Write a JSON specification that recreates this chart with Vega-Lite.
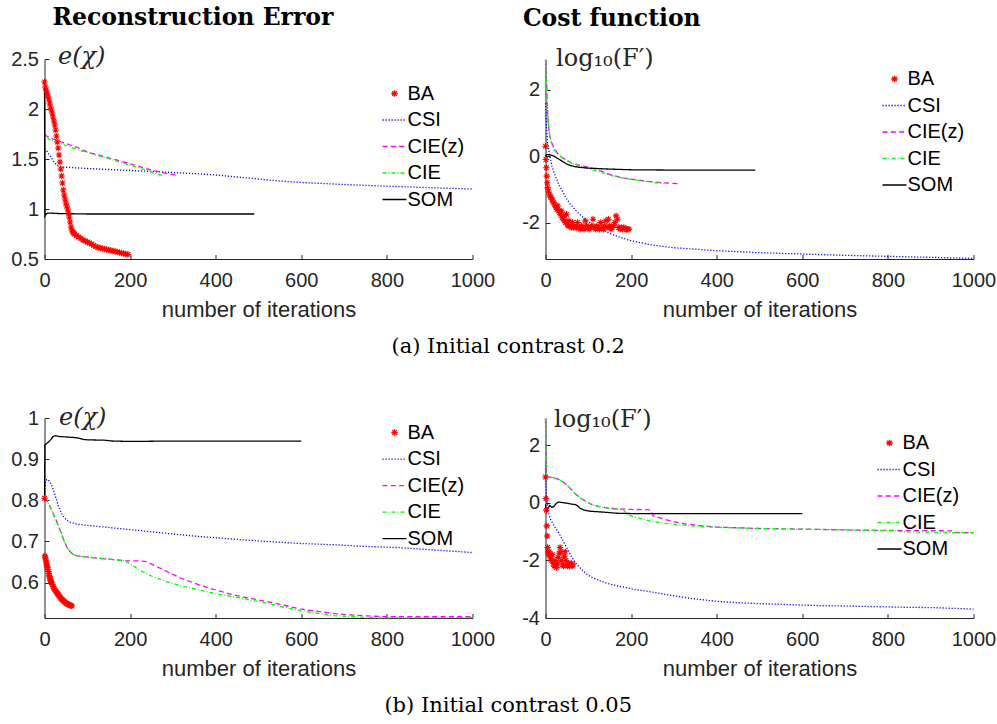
{
"$schema": "https://vega.github.io/schema/vega-lite/v6.json",
"background": "white",
"padding": {"left": 10.5, "top": 5, "right": 0, "bottom": 0},
"config": {
 "font": "Liberation Sans",
 "view": {"stroke": null},
 "axis": {"labelFont": "Liberation Sans", "labelFontSize": 20, "labelColor": "#262626", "titleFont": "Liberation Sans", "titleFontSize": 22, "titleFontWeight": "normal", "titleColor": "#262626", "domainColor": "#262626", "tickColor": "#262626", "grid": false, "tickSize": -4.5, "labelFlush": false, "labelOverlap": false},
 "axisX": {"labelPadding": 16, "titlePadding": 9},
 "axisY": {"labelPadding": 10.5},
 "locale": {"number": {"decimal": ".", "thousands": ",", "grouping": [3], "currency": ["$", ""], "minus": "-"}}
},
"datasets": {
 "a_err": [
  {"m":"BA","x":0,"y":2.27},{"m":"BA","x":2,"y":2.22},{"m":"BA","x":4,"y":2.19},{"m":"BA","x":6,"y":2.16},{"m":"BA","x":8,"y":2.13},{"m":"BA","x":10,"y":2.10},{"m":"BA","x":12,"y":2.06},{"m":"BA","x":14,"y":2.02},{"m":"BA","x":16,"y":1.99},{"m":"BA","x":18,"y":1.96},{"m":"BA","x":20,"y":1.92},{"m":"BA","x":22,"y":1.88},{"m":"BA","x":24,"y":1.84},{"m":"BA","x":26,"y":1.79},{"m":"BA","x":28,"y":1.73},{"m":"BA","x":30,"y":1.67},{"m":"BA","x":32,"y":1.61},{"m":"BA","x":34,"y":1.54},{"m":"BA","x":36,"y":1.47},{"m":"BA","x":38,"y":1.40},{"m":"BA","x":40,"y":1.33},{"m":"BA","x":42,"y":1.26},{"m":"BA","x":44,"y":1.19},{"m":"BA","x":46,"y":1.14},{"m":"BA","x":48,"y":1.10},{"m":"BA","x":50,"y":1.06},{"m":"BA","x":52,"y":1.03},{"m":"BA","x":54,"y":1.00},{"m":"BA","x":56,"y":0.96},{"m":"BA","x":58,"y":0.92},{"m":"BA","x":60,"y":0.87},{"m":"BA","x":62,"y":0.82},{"m":"BA","x":64,"y":0.79},{"m":"BA","x":66,"y":0.77},{"m":"BA","x":68,"y":0.76},{"m":"BA","x":70,"y":0.75},{"m":"BA","x":75,"y":0.735},{"m":"BA","x":80,"y":0.72},{"m":"BA","x":85,"y":0.705},{"m":"BA","x":90,"y":0.69},{"m":"BA","x":95,"y":0.68},{"m":"BA","x":100,"y":0.67},{"m":"BA","x":105,"y":0.66},{"m":"BA","x":110,"y":0.65},{"m":"BA","x":115,"y":0.635},{"m":"BA","x":120,"y":0.625},{"m":"BA","x":125,"y":0.615},{"m":"BA","x":130,"y":0.61},{"m":"BA","x":135,"y":0.605},{"m":"BA","x":140,"y":0.60},{"m":"BA","x":145,"y":0.595},{"m":"BA","x":150,"y":0.59},{"m":"BA","x":155,"y":0.585},{"m":"BA","x":160,"y":0.58},{"m":"BA","x":165,"y":0.575},{"m":"BA","x":170,"y":0.57},{"m":"BA","x":175,"y":0.565},{"m":"BA","x":180,"y":0.56},{"m":"BA","x":185,"y":0.555},{"m":"BA","x":190,"y":0.55},{"m":"BA","x":195,"y":0.545},
  {"m":"CSI","x":0,"y":1.60},{"m":"CSI","x":3,"y":1.59},{"m":"CSI","x":6,"y":1.575},{"m":"CSI","x":10,"y":1.55},{"m":"CSI","x":15,"y":1.52},{"m":"CSI","x":20,"y":1.485},{"m":"CSI","x":25,"y":1.455},{"m":"CSI","x":30,"y":1.435},{"m":"CSI","x":40,"y":1.42},{"m":"CSI","x":60,"y":1.415},{"m":"CSI","x":100,"y":1.405},{"m":"CSI","x":150,"y":1.395},{"m":"CSI","x":200,"y":1.385},{"m":"CSI","x":250,"y":1.375},{"m":"CSI","x":300,"y":1.365},{"m":"CSI","x":364,"y":1.35},{"m":"CSI","x":400,"y":1.34},{"m":"CSI","x":450,"y":1.32},{"m":"CSI","x":500,"y":1.30},{"m":"CSI","x":550,"y":1.28},{"m":"CSI","x":600,"y":1.265},{"m":"CSI","x":700,"y":1.245},{"m":"CSI","x":800,"y":1.228},{"m":"CSI","x":900,"y":1.213},{"m":"CSI","x":1000,"y":1.20},
  {"m":"CIE(z)","x":0,"y":1.75},{"m":"CIE(z)","x":5,"y":1.73},{"m":"CIE(z)","x":20,"y":1.70},{"m":"CIE(z)","x":40,"y":1.67},{"m":"CIE(z)","x":60,"y":1.64},{"m":"CIE(z)","x":80,"y":1.61},{"m":"CIE(z)","x":100,"y":1.57},{"m":"CIE(z)","x":130,"y":1.535},{"m":"CIE(z)","x":160,"y":1.50},{"m":"CIE(z)","x":190,"y":1.465},{"m":"CIE(z)","x":210,"y":1.44},{"m":"CIE(z)","x":240,"y":1.40},{"m":"CIE(z)","x":270,"y":1.37},{"m":"CIE(z)","x":290,"y":1.35},{"m":"CIE(z)","x":310,"y":1.34},
  {"m":"CIE","x":0,"y":1.80},{"m":"CIE","x":3,"y":1.74},{"m":"CIE","x":10,"y":1.70},{"m":"CIE","x":20,"y":1.68},{"m":"CIE","x":40,"y":1.65},{"m":"CIE","x":60,"y":1.62},{"m":"CIE","x":80,"y":1.59},{"m":"CIE","x":100,"y":1.565},{"m":"CIE","x":130,"y":1.53},{"m":"CIE","x":160,"y":1.49},{"m":"CIE","x":190,"y":1.45},{"m":"CIE","x":210,"y":1.425},{"m":"CIE","x":240,"y":1.385},{"m":"CIE","x":260,"y":1.355},{"m":"CIE","x":280,"y":1.33},
  {"m":"SOM","x":0,"y":2.27},{"m":"SOM","x":1,"y":0.93},{"m":"SOM","x":3,"y":0.945},{"m":"SOM","x":8,"y":0.96},{"m":"SOM","x":30,"y":0.955},{"m":"SOM","x":100,"y":0.95},{"m":"SOM","x":490,"y":0.95}
 ],
 "a_cost": [
  {"m":"BA","x":0,"y":0.3},{"m":"BA","x":1,"y":-0.1},{"m":"BA","x":2,"y":-0.35},{"m":"BA","x":3,"y":-0.6},{"m":"BA","x":4,"y":-0.8},{"m":"BA","x":5,"y":-0.95},{"m":"BA","x":7,"y":-1.05},{"m":"BA","x":9,"y":-1.15},{"m":"BA","x":11,"y":-1.2},{"m":"BA","x":13,"y":-1.25},{"m":"BA","x":15,"y":-1.3},{"m":"BA","x":17,"y":-1.35},{"m":"BA","x":19,"y":-1.4},{"m":"BA","x":21,"y":-1.45},{"m":"BA","x":23,"y":-1.5},{"m":"BA","x":25,"y":-1.55},{"m":"BA","x":27,"y":-1.6},{"m":"BA","x":29,"y":-1.5},{"m":"BA","x":31,"y":-1.65},{"m":"BA","x":33,"y":-1.7},{"m":"BA","x":35,"y":-1.75},{"m":"BA","x":37,"y":-1.65},{"m":"BA","x":39,"y":-1.85},{"m":"BA","x":41,"y":-1.9},{"m":"BA","x":43,"y":-1.8},{"m":"BA","x":45,"y":-1.95},{"m":"BA","x":47,"y":-2.0},{"m":"BA","x":49,"y":-1.75},{"m":"BA","x":51,"y":-2.05},{"m":"BA","x":53,"y":-2.1},{"m":"BA","x":55,"y":-1.95},{"m":"BA","x":57,"y":-2.1},{"m":"BA","x":60,"y":-2.15},{"m":"BA","x":63,"y":-2.0},{"m":"BA","x":66,"y":-2.15},{"m":"BA","x":69,"y":-2.1},{"m":"BA","x":72,"y":-2.15},{"m":"BA","x":75,"y":-2.0},{"m":"BA","x":78,"y":-2.15},{"m":"BA","x":81,"y":-2.2},{"m":"BA","x":84,"y":-2.1},{"m":"BA","x":87,"y":-2.15},{"m":"BA","x":90,"y":-2.2},{"m":"BA","x":93,"y":-1.95},{"m":"BA","x":96,"y":-2.1},{"m":"BA","x":99,"y":-2.15},{"m":"BA","x":102,"y":-2.2},{"m":"BA","x":105,"y":-2.15},{"m":"BA","x":108,"y":-2.1},{"m":"BA","x":111,"y":-1.9},{"m":"BA","x":114,"y":-2.15},{"m":"BA","x":117,"y":-2.2},{"m":"BA","x":120,"y":-2.1},{"m":"BA","x":123,"y":-2.15},{"m":"BA","x":126,"y":-2.2},{"m":"BA","x":129,"y":-2.0},{"m":"BA","x":132,"y":-2.15},{"m":"BA","x":135,"y":-2.2},{"m":"BA","x":138,"y":-2.1},{"m":"BA","x":141,"y":-1.95},{"m":"BA","x":144,"y":-2.15},{"m":"BA","x":147,"y":-1.9},{"m":"BA","x":150,"y":-2.1},{"m":"BA","x":153,"y":-2.2},{"m":"BA","x":156,"y":-2.15},{"m":"BA","x":159,"y":-2.1},{"m":"BA","x":162,"y":-2.0},{"m":"BA","x":165,"y":-1.8},{"m":"BA","x":168,"y":-1.9},{"m":"BA","x":171,"y":-2.15},{"m":"BA","x":174,"y":-2.2},{"m":"BA","x":177,"y":-2.15},{"m":"BA","x":180,"y":-2.2},{"m":"BA","x":183,"y":-2.15},{"m":"BA","x":186,"y":-2.2},{"m":"BA","x":189,"y":-2.2},{"m":"BA","x":192,"y":-2.2},{"m":"BA","x":195,"y":-2.2},
  {"m":"CSI","x":0,"y":1.6},{"m":"CSI","x":2,"y":0.9},{"m":"CSI","x":5,"y":0.4},{"m":"CSI","x":10,"y":0.0},{"m":"CSI","x":15,"y":-0.3},{"m":"CSI","x":20,"y":-0.5},{"m":"CSI","x":30,"y":-0.82},{"m":"CSI","x":40,"y":-1.07},{"m":"CSI","x":50,"y":-1.3},{"m":"CSI","x":60,"y":-1.48},{"m":"CSI","x":75,"y":-1.7},{"m":"CSI","x":100,"y":-1.97},{"m":"CSI","x":125,"y":-2.18},{"m":"CSI","x":150,"y":-2.33},{"m":"CSI","x":175,"y":-2.45},{"m":"CSI","x":200,"y":-2.55},{"m":"CSI","x":250,"y":-2.68},{"m":"CSI","x":300,"y":-2.76},{"m":"CSI","x":400,"y":-2.85},{"m":"CSI","x":500,"y":-2.91},{"m":"CSI","x":600,"y":-2.95},{"m":"CSI","x":700,"y":-2.99},{"m":"CSI","x":800,"y":-3.02},{"m":"CSI","x":900,"y":-3.05},{"m":"CSI","x":1000,"y":-3.08},
  {"m":"CIE(z)","x":0,"y":2.9},{"m":"CIE(z)","x":2,"y":2.3},{"m":"CIE(z)","x":4,"y":1.6},{"m":"CIE(z)","x":6,"y":1.1},{"m":"CIE(z)","x":8,"y":0.8},{"m":"CIE(z)","x":10,"y":0.6},{"m":"CIE(z)","x":15,"y":0.4},{"m":"CIE(z)","x":20,"y":0.25},{"m":"CIE(z)","x":30,"y":0.05},{"m":"CIE(z)","x":40,"y":-0.05},{"m":"CIE(z)","x":60,"y":-0.2},{"m":"CIE(z)","x":80,"y":-0.28},{"m":"CIE(z)","x":100,"y":-0.33},{"m":"CIE(z)","x":120,"y":-0.4},{"m":"CIE(z)","x":150,"y":-0.55},{"m":"CIE(z)","x":180,"y":-0.65},{"m":"CIE(z)","x":210,"y":-0.71},{"m":"CIE(z)","x":240,"y":-0.76},{"m":"CIE(z)","x":270,"y":-0.8},{"m":"CIE(z)","x":310,"y":-0.83},
  {"m":"CIE","x":0,"y":2.9},{"m":"CIE","x":2,"y":2.3},{"m":"CIE","x":4,"y":1.6},{"m":"CIE","x":6,"y":1.1},{"m":"CIE","x":8,"y":0.8},{"m":"CIE","x":10,"y":0.6},{"m":"CIE","x":15,"y":0.35},{"m":"CIE","x":20,"y":0.2},{"m":"CIE","x":30,"y":0.05},{"m":"CIE","x":40,"y":-0.05},{"m":"CIE","x":60,"y":-0.2},{"m":"CIE","x":80,"y":-0.3},{"m":"CIE","x":100,"y":-0.38},{"m":"CIE","x":120,"y":-0.45},{"m":"CIE","x":150,"y":-0.57},{"m":"CIE","x":180,"y":-0.66},{"m":"CIE","x":210,"y":-0.72},{"m":"CIE","x":240,"y":-0.77},{"m":"CIE","x":276,"y":-0.83},
  {"m":"SOM","x":0,"y":0.0},{"m":"SOM","x":3,"y":0.05},{"m":"SOM","x":10,"y":0.04},{"m":"SOM","x":20,"y":0.0},{"m":"SOM","x":30,"y":-0.08},{"m":"SOM","x":40,"y":-0.16},{"m":"SOM","x":50,"y":-0.24},{"m":"SOM","x":60,"y":-0.29},{"m":"SOM","x":75,"y":-0.33},{"m":"SOM","x":100,"y":-0.36},{"m":"SOM","x":150,"y":-0.39},{"m":"SOM","x":200,"y":-0.41},{"m":"SOM","x":300,"y":-0.42},{"m":"SOM","x":490,"y":-0.42}
 ],
 "b_err": [
  {"m":"BA","x":0,"y":0.805},{"m":"BA","x":1,"y":0.665},{"m":"BA","x":2,"y":0.66},{"m":"BA","x":3,"y":0.655},{"m":"BA","x":4,"y":0.65},{"m":"BA","x":5,"y":0.645},{"m":"BA","x":6,"y":0.64},{"m":"BA","x":7,"y":0.636},{"m":"BA","x":8,"y":0.632},{"m":"BA","x":9,"y":0.627},{"m":"BA","x":10,"y":0.622},{"m":"BA","x":11,"y":0.618},{"m":"BA","x":12,"y":0.614},{"m":"BA","x":13,"y":0.61},{"m":"BA","x":14,"y":0.606},{"m":"BA","x":15,"y":0.603},{"m":"BA","x":16,"y":0.6},{"m":"BA","x":18,"y":0.595},{"m":"BA","x":20,"y":0.591},{"m":"BA","x":22,"y":0.587},{"m":"BA","x":24,"y":0.583},{"m":"BA","x":26,"y":0.58},{"m":"BA","x":28,"y":0.577},{"m":"BA","x":30,"y":0.574},{"m":"BA","x":32,"y":0.571},{"m":"BA","x":34,"y":0.568},{"m":"BA","x":36,"y":0.565},{"m":"BA","x":38,"y":0.562},{"m":"BA","x":40,"y":0.56},{"m":"BA","x":42,"y":0.558},{"m":"BA","x":44,"y":0.556},{"m":"BA","x":46,"y":0.554},{"m":"BA","x":48,"y":0.552},{"m":"BA","x":50,"y":0.55},{"m":"BA","x":52,"y":0.549},{"m":"BA","x":54,"y":0.548},{"m":"BA","x":56,"y":0.547},{"m":"BA","x":58,"y":0.546},{"m":"BA","x":60,"y":0.545},{"m":"BA","x":62,"y":0.544},{"m":"BA","x":64,"y":0.543},
  {"m":"CSI","x":0,"y":0.805},{"m":"CSI","x":2,"y":0.845},{"m":"CSI","x":5,"y":0.85},{"m":"CSI","x":9,"y":0.85},{"m":"CSI","x":15,"y":0.84},{"m":"CSI","x":21,"y":0.825},{"m":"CSI","x":27,"y":0.805},{"m":"CSI","x":33,"y":0.784},{"m":"CSI","x":40,"y":0.768},{"m":"CSI","x":46,"y":0.758},{"m":"CSI","x":52,"y":0.752},{"m":"CSI","x":60,"y":0.747},{"m":"CSI","x":76,"y":0.742},{"m":"CSI","x":100,"y":0.739},{"m":"CSI","x":130,"y":0.736},{"m":"CSI","x":208,"y":0.728},{"m":"CSI","x":300,"y":0.718},{"m":"CSI","x":363,"y":0.712},{"m":"CSI","x":450,"y":0.705},{"m":"CSI","x":519,"y":0.70},{"m":"CSI","x":600,"y":0.695},{"m":"CSI","x":675,"y":0.692},{"m":"CSI","x":750,"y":0.688},{"m":"CSI","x":830,"y":0.685},{"m":"CSI","x":900,"y":0.68},{"m":"CSI","x":1000,"y":0.673},
  {"m":"CIE(z)","x":0,"y":0.805},{"m":"CIE(z)","x":5,"y":0.80},{"m":"CIE(z)","x":13,"y":0.784},{"m":"CIE(z)","x":20,"y":0.768},{"m":"CIE(z)","x":27,"y":0.752},{"m":"CIE(z)","x":33,"y":0.736},{"m":"CIE(z)","x":40,"y":0.718},{"m":"CIE(z)","x":46,"y":0.70},{"m":"CIE(z)","x":52,"y":0.687},{"m":"CIE(z)","x":60,"y":0.675},{"m":"CIE(z)","x":68,"y":0.668},{"m":"CIE(z)","x":76,"y":0.665},{"m":"CIE(z)","x":100,"y":0.662},{"m":"CIE(z)","x":130,"y":0.659},{"m":"CIE(z)","x":160,"y":0.656},{"m":"CIE(z)","x":188,"y":0.653},{"m":"CIE(z)","x":215,"y":0.653},{"m":"CIE(z)","x":239,"y":0.651},{"m":"CIE(z)","x":260,"y":0.64},{"m":"CIE(z)","x":286,"y":0.627},{"m":"CIE(z)","x":320,"y":0.61},{"m":"CIE(z)","x":363,"y":0.594},{"m":"CIE(z)","x":400,"y":0.582},{"m":"CIE(z)","x":441,"y":0.57},{"m":"CIE(z)","x":480,"y":0.562},{"m":"CIE(z)","x":519,"y":0.554},{"m":"CIE(z)","x":560,"y":0.545},{"m":"CIE(z)","x":597,"y":0.536},{"m":"CIE(z)","x":640,"y":0.53},{"m":"CIE(z)","x":675,"y":0.525},{"m":"CIE(z)","x":720,"y":0.521},{"m":"CIE(z)","x":753,"y":0.519},{"m":"CIE(z)","x":800,"y":0.517},{"m":"CIE(z)","x":900,"y":0.517},{"m":"CIE(z)","x":1000,"y":0.517},
  {"m":"CIE","x":0,"y":0.805},{"m":"CIE","x":5,"y":0.80},{"m":"CIE","x":13,"y":0.784},{"m":"CIE","x":20,"y":0.768},{"m":"CIE","x":27,"y":0.752},{"m":"CIE","x":33,"y":0.736},{"m":"CIE","x":40,"y":0.718},{"m":"CIE","x":46,"y":0.70},{"m":"CIE","x":52,"y":0.687},{"m":"CIE","x":60,"y":0.675},{"m":"CIE","x":68,"y":0.668},{"m":"CIE","x":76,"y":0.665},{"m":"CIE","x":100,"y":0.662},{"m":"CIE","x":130,"y":0.659},{"m":"CIE","x":160,"y":0.656},{"m":"CIE","x":188,"y":0.653},{"m":"CIE","x":200,"y":0.645},{"m":"CIE","x":223,"y":0.63},{"m":"CIE","x":250,"y":0.616},{"m":"CIE","x":286,"y":0.602},{"m":"CIE","x":320,"y":0.592},{"m":"CIE","x":363,"y":0.582},{"m":"CIE","x":400,"y":0.573},{"m":"CIE","x":441,"y":0.566},{"m":"CIE","x":480,"y":0.558},{"m":"CIE","x":519,"y":0.55},{"m":"CIE","x":560,"y":0.54},{"m":"CIE","x":597,"y":0.532},{"m":"CIE","x":640,"y":0.525},{"m":"CIE","x":675,"y":0.52},{"m":"CIE","x":720,"y":0.517},{"m":"CIE","x":753,"y":0.515},{"m":"CIE","x":800,"y":0.514},{"m":"CIE","x":900,"y":0.515},{"m":"CIE","x":1000,"y":0.515},
  {"m":"SOM","x":0,"y":0.80},{"m":"SOM","x":1,"y":0.935},{"m":"SOM","x":5,"y":0.938},{"m":"SOM","x":10,"y":0.942},{"m":"SOM","x":15,"y":0.948},{"m":"SOM","x":20,"y":0.955},{"m":"SOM","x":25,"y":0.957},{"m":"SOM","x":35,"y":0.955},{"m":"SOM","x":50,"y":0.954},{"m":"SOM","x":75,"y":0.952},{"m":"SOM","x":90,"y":0.948},{"m":"SOM","x":100,"y":0.947},{"m":"SOM","x":140,"y":0.946},{"m":"SOM","x":160,"y":0.944},{"m":"SOM","x":200,"y":0.943},{"m":"SOM","x":300,"y":0.944},{"m":"SOM","x":400,"y":0.944},{"m":"SOM","x":600,"y":0.944}
 ],
 "b_cost": [
  {"m":"BA","x":0,"y":0.9},{"m":"BA","x":1,"y":0.15},{"m":"BA","x":2,"y":-0.25},{"m":"BA","x":3,"y":-0.8},{"m":"BA","x":4,"y":-1.15},{"m":"BA","x":5,"y":-1.55},{"m":"BA","x":6,"y":-1.7},{"m":"BA","x":7,"y":-1.75},{"m":"BA","x":8,"y":-1.8},{"m":"BA","x":9,"y":-1.7},{"m":"BA","x":10,"y":-1.85},{"m":"BA","x":12,"y":-1.95},{"m":"BA","x":14,"y":-2.0},{"m":"BA","x":16,"y":-1.8},{"m":"BA","x":18,"y":-2.1},{"m":"BA","x":20,"y":-2.2},{"m":"BA","x":22,"y":-2.0},{"m":"BA","x":24,"y":-2.15},{"m":"BA","x":26,"y":-2.25},{"m":"BA","x":28,"y":-2.1},{"m":"BA","x":30,"y":-1.9},{"m":"BA","x":32,"y":-1.75},{"m":"BA","x":34,"y":-1.55},{"m":"BA","x":36,"y":-1.7},{"m":"BA","x":38,"y":-2.0},{"m":"BA","x":40,"y":-2.15},{"m":"BA","x":42,"y":-2.2},{"m":"BA","x":44,"y":-1.85},{"m":"BA","x":46,"y":-1.7},{"m":"BA","x":48,"y":-2.0},{"m":"BA","x":50,"y":-2.15},{"m":"BA","x":52,"y":-2.2},{"m":"BA","x":54,"y":-2.1},{"m":"BA","x":56,"y":-2.2},{"m":"BA","x":58,"y":-2.15},{"m":"BA","x":60,"y":-2.1},{"m":"BA","x":62,"y":-2.2},{"m":"BA","x":64,"y":-2.15},
  {"m":"CSI","x":0,"y":1.3},{"m":"CSI","x":2,"y":0.25},{"m":"CSI","x":7,"y":-0.32},{"m":"CSI","x":11,"y":-0.55},{"m":"CSI","x":20,"y":-0.8},{"m":"CSI","x":34,"y":-1.12},{"m":"CSI","x":50,"y":-1.57},{"m":"CSI","x":60,"y":-1.85},{"m":"CSI","x":73,"y":-2.14},{"m":"CSI","x":85,"y":-2.32},{"m":"CSI","x":97,"y":-2.48},{"m":"CSI","x":110,"y":-2.6},{"m":"CSI","x":128,"y":-2.71},{"m":"CSI","x":145,"y":-2.8},{"m":"CSI","x":167,"y":-2.88},{"m":"CSI","x":206,"y":-3.0},{"m":"CSI","x":250,"y":-3.1},{"m":"CSI","x":284,"y":-3.19},{"m":"CSI","x":340,"y":-3.32},{"m":"CSI","x":400,"y":-3.42},{"m":"CSI","x":450,"y":-3.47},{"m":"CSI","x":517,"y":-3.51},{"m":"CSI","x":595,"y":-3.55},{"m":"CSI","x":650,"y":-3.57},{"m":"CSI","x":751,"y":-3.6},{"m":"CSI","x":850,"y":-3.63},{"m":"CSI","x":906,"y":-3.64},{"m":"CSI","x":1000,"y":-3.69},
  {"m":"CIE(z)","x":0,"y":2.93},{"m":"CIE(z)","x":1,"y":2.0},{"m":"CIE(z)","x":2,"y":0.95},{"m":"CIE(z)","x":5,"y":0.9},{"m":"CIE(z)","x":19,"y":0.88},{"m":"CIE(z)","x":30,"y":0.82},{"m":"CIE(z)","x":42,"y":0.72},{"m":"CIE(z)","x":55,"y":0.55},{"m":"CIE(z)","x":65,"y":0.38},{"m":"CIE(z)","x":80,"y":0.18},{"m":"CIE(z)","x":97,"y":0.03},{"m":"CIE(z)","x":110,"y":-0.07},{"m":"CIE(z)","x":128,"y":-0.14},{"m":"CIE(z)","x":150,"y":-0.19},{"m":"CIE(z)","x":186,"y":-0.22},{"m":"CIE(z)","x":245,"y":-0.24},{"m":"CIE(z)","x":252,"y":-0.45},{"m":"CIE(z)","x":280,"y":-0.58},{"m":"CIE(z)","x":300,"y":-0.65},{"m":"CIE(z)","x":322,"y":-0.72},{"m":"CIE(z)","x":360,"y":-0.79},{"m":"CIE(z)","x":400,"y":-0.84},{"m":"CIE(z)","x":500,"y":-0.89},{"m":"CIE(z)","x":595,"y":-0.91},{"m":"CIE(z)","x":700,"y":-0.94},{"m":"CIE(z)","x":821,"y":-0.96},{"m":"CIE(z)","x":950,"y":-0.97},{"m":"CIE(z)","x":960,"y":-1.03},{"m":"CIE(z)","x":1000,"y":-1.04},
  {"m":"CIE","x":0,"y":2.93},{"m":"CIE","x":1,"y":2.0},{"m":"CIE","x":2,"y":0.95},{"m":"CIE","x":5,"y":0.9},{"m":"CIE","x":19,"y":0.88},{"m":"CIE","x":30,"y":0.82},{"m":"CIE","x":42,"y":0.72},{"m":"CIE","x":55,"y":0.55},{"m":"CIE","x":65,"y":0.38},{"m":"CIE","x":80,"y":0.18},{"m":"CIE","x":97,"y":0.03},{"m":"CIE","x":110,"y":-0.07},{"m":"CIE","x":128,"y":-0.14},{"m":"CIE","x":150,"y":-0.19},{"m":"CIE","x":182,"y":-0.24},{"m":"CIE","x":186,"y":-0.3},{"m":"CIE","x":190,"y":-0.41},{"m":"CIE","x":210,"y":-0.5},{"m":"CIE","x":245,"y":-0.63},{"m":"CIE","x":280,"y":-0.71},{"m":"CIE","x":322,"y":-0.77},{"m":"CIE","x":360,"y":-0.82},{"m":"CIE","x":400,"y":-0.85},{"m":"CIE","x":500,"y":-0.89},{"m":"CIE","x":595,"y":-0.91},{"m":"CIE","x":700,"y":-0.94},{"m":"CIE","x":821,"y":-0.97},{"m":"CIE","x":829,"y":-1.0},{"m":"CIE","x":900,"y":-1.02},{"m":"CIE","x":1000,"y":-1.04},
  {"m":"SOM","x":0,"y":-0.05},{"m":"SOM","x":2,"y":-0.3},{"m":"SOM","x":5,"y":-0.2},{"m":"SOM","x":10,"y":-0.09},{"m":"SOM","x":15,"y":-0.16},{"m":"SOM","x":20,"y":-0.12},{"m":"SOM","x":25,"y":-0.02},{"m":"SOM","x":30,"y":0.03},{"m":"SOM","x":40,"y":0.01},{"m":"SOM","x":50,"y":-0.01},{"m":"SOM","x":60,"y":-0.04},{"m":"SOM","x":70,"y":-0.06},{"m":"SOM","x":75,"y":-0.1},{"m":"SOM","x":80,"y":-0.18},{"m":"SOM","x":90,"y":-0.25},{"m":"SOM","x":104,"y":-0.29},{"m":"SOM","x":125,"y":-0.31},{"m":"SOM","x":143,"y":-0.33},{"m":"SOM","x":167,"y":-0.36},{"m":"SOM","x":200,"y":-0.37},{"m":"SOM","x":600,"y":-0.37}
 ]
},
"spacing": 48,
"resolve": {"scale": {"color": "independent", "shape": "independent", "strokeDash": "independent"}},
"vconcat": [
 {
  "title": {"text": "(a) Initial contrast 0.2", "orient": "bottom", "anchor": "middle", "dx": 5, "font": "DejaVu Serif", "fontSize": 21, "fontWeight": "normal", "color": "black", "offset": 15},
  "bounds": "flush",
  "spacing": 73,
  "resolve": {"scale": {"color": "independent", "shape": "independent", "strokeDash": "independent"}},
  "hconcat": [
   {
    "width": 428, "height": 200,
    "data": {"name": "a_err"},
    "title": {"text": "Reconstruction Error", "anchor": "start", "frame": "group", "dx": 8, "baseline": "alphabetic", "offset": -4, "font": "DejaVu Serif", "fontWeight": "bold", "fontSize": 23.5, "color": "black"},
    "encoding": {
     "x": {"field": "x", "type": "quantitative", "scale": {"domain": [0, 1000], "nice": false}, "axis": {"values": [0, 200, 400, 600, 800, 1000], "format": "d", "title": "number of iterations"}},
     "y": {"field": "y", "type": "quantitative", "scale": {"domain": [0.5, 2.5], "nice": false, "zero": false}, "axis": {"values": [0.5, 1, 1.5, 2, 2.5], "format": "~g", "title": "e(χ)", "titleAngle": 0, "titleAlign": "left", "titleBaseline": "middle", "titleX": 13, "titleY": -3, "titleFont": "DejaVu Serif", "titleFontStyle": "italic", "titleFontSize": 24}},
     "color": {"field": "m", "type": "nominal", "scale": {"domain": ["BA", "CSI", "CIE(z)", "CIE", "SOM"], "range": ["#ff0000", "#0000ff", "#ff00ff", "#00ff00", "#000000"]}, "legend": {"title": null, "orient": "none", "legendX": 337, "legendY": 21.5, "labelFont": "Liberation Sans", "labelFontSize": 20, "labelColor": "black", "symbolSize": 576, "labelOffset": 0, "padding": 0, "rowPadding": 3.5, "symbolStrokeWidth": 1.3}}
    },
    "layer": [
     {"transform": [{"filter": "datum.m != 'BA'"}], "mark": {"type": "line", "strokeWidth": 1.3},
      "encoding": {"strokeDash": {"field": "m", "type": "nominal", "scale": {"domain": ["BA", "CSI", "CIE(z)", "CIE", "SOM"], "range": [[1, 0], [1.2, 1.8], [5, 3.3], [4, 2, 1, 2], [1, 0]]}, "legend": {"title": null, "orient": "none", "legendX": 337, "legendY": 21.5, "labelFont": "Liberation Sans", "labelFontSize": 20, "labelColor": "black", "symbolSize": 576, "labelOffset": 0, "padding": 0, "rowPadding": 3.5, "symbolStrokeWidth": 1.3}}}},
     {"transform": [{"filter": "datum.m == 'BA'"}], "mark": {"type": "point", "filled": false, "size": 576, "strokeWidth": 1.1, "opacity": 1},
      "encoding": {"shape": {"field": "m", "type": "nominal", "scale": {"domain": ["BA", "CSI", "CIE(z)", "CIE", "SOM"], "range": ["M-0.27,0L0.27,0M0,-0.27L0,0.27M-0.19,-0.19L0.19,0.19M-0.19,0.19L0.19,-0.19", "stroke", "stroke", "stroke", "stroke"]}, "legend": {"title": null, "orient": "none", "legendX": 337, "legendY": 21.5, "labelFont": "Liberation Sans", "labelFontSize": 20, "labelColor": "black", "symbolSize": 576, "labelOffset": 0, "padding": 0, "rowPadding": 3.5, "symbolStrokeWidth": 1.3}}}}
    ]
   },
   {
    "width": 428, "height": 200,
    "data": {"name": "a_cost"},
    "title": {"text": "Cost function", "anchor": "start", "frame": "group", "dx": -22.6, "baseline": "alphabetic", "offset": -3.5, "font": "DejaVu Serif", "fontWeight": "bold", "fontSize": 23.5, "color": "black"},
    "encoding": {
     "x": {"field": "x", "type": "quantitative", "scale": {"domain": [0, 1000], "nice": false}, "axis": {"values": [0, 200, 400, 600, 800, 1000], "format": "d", "title": "number of iterations"}},
     "y": {"field": "y", "type": "quantitative", "scale": {"domain": [-3.1, 2.93], "nice": false, "zero": false}, "axis": {"values": [-2, 0, 2], "format": "~g", "title": "log₁₀(F′)", "titleAngle": 0, "titleAlign": "left", "titleBaseline": "middle", "titleX": 10, "titleY": -1, "titleFont": "DejaVu Serif", "titleFontSize": 24}},
     "color": {"field": "m", "type": "nominal", "scale": {"domain": ["BA", "CSI", "CIE(z)", "CIE", "SOM"], "range": ["#ff0000", "#0000ff", "#ff00ff", "#00ff00", "#000000"]}, "legend": {"title": null, "orient": "none", "legendX": 336, "legendY": 7, "labelFont": "Liberation Sans", "labelFontSize": 20, "labelColor": "black", "symbolSize": 576, "labelOffset": 0, "padding": 0, "rowPadding": 3.5, "symbolStrokeWidth": 1.3}}
    },
    "layer": [
     {"transform": [{"filter": "datum.m != 'BA'"}], "mark": {"type": "line", "strokeWidth": 1.3},
      "encoding": {"strokeDash": {"field": "m", "type": "nominal", "scale": {"domain": ["BA", "CSI", "CIE(z)", "CIE", "SOM"], "range": [[1, 0], [1.2, 1.8], [5, 3.3], [4, 2, 1, 2], [1, 0]]}, "legend": {"title": null, "orient": "none", "legendX": 336, "legendY": 7, "labelFont": "Liberation Sans", "labelFontSize": 20, "labelColor": "black", "symbolSize": 576, "labelOffset": 0, "padding": 0, "rowPadding": 3.5, "symbolStrokeWidth": 1.3}}}},
     {"transform": [{"filter": "datum.m == 'BA'"}], "mark": {"type": "point", "filled": false, "size": 576, "strokeWidth": 1.1, "opacity": 1},
      "encoding": {"shape": {"field": "m", "type": "nominal", "scale": {"domain": ["BA", "CSI", "CIE(z)", "CIE", "SOM"], "range": ["M-0.27,0L0.27,0M0,-0.27L0,0.27M-0.19,-0.19L0.19,0.19M-0.19,0.19L0.19,-0.19", "stroke", "stroke", "stroke", "stroke"]}, "legend": {"title": null, "orient": "none", "legendX": 336, "legendY": 7, "labelFont": "Liberation Sans", "labelFontSize": 20, "labelColor": "black", "symbolSize": 576, "labelOffset": 0, "padding": 0, "rowPadding": 3.5, "symbolStrokeWidth": 1.3}}}}
    ]
   }
  ]
 },
 {
  "title": {"text": "(b) Initial contrast 0.05", "orient": "bottom", "anchor": "middle", "dx": 5, "font": "DejaVu Serif", "fontSize": 21, "fontWeight": "normal", "color": "black", "offset": 15},
  "bounds": "flush",
  "spacing": 73,
  "resolve": {"scale": {"color": "independent", "shape": "independent", "strokeDash": "independent"}},
  "hconcat": [
   {
    "width": 428, "height": 200,
    "data": {"name": "b_err"},
    "encoding": {
     "x": {"field": "x", "type": "quantitative", "scale": {"domain": [0, 1000], "nice": false}, "axis": {"values": [0, 200, 400, 600, 800, 1000], "format": "d", "title": "number of iterations"}},
     "y": {"field": "y", "type": "quantitative", "scale": {"domain": [0.514, 1], "nice": false, "zero": false}, "axis": {"values": [0.6, 0.7, 0.8, 0.9, 1], "format": "~g", "title": "e(χ)", "titleAngle": 0, "titleAlign": "left", "titleBaseline": "middle", "titleX": 14, "titleY": -1, "titleFont": "DejaVu Serif", "titleFontStyle": "italic", "titleFontSize": 24}},
     "color": {"field": "m", "type": "nominal", "scale": {"domain": ["BA", "CSI", "CIE(z)", "CIE", "SOM"], "range": ["#ff0000", "#0000ff", "#ff00ff", "#00ff00", "#000000"]}, "legend": {"title": null, "orient": "none", "legendX": 337, "legendY": 1.6, "labelFont": "Liberation Sans", "labelFontSize": 20, "labelColor": "black", "symbolSize": 576, "labelOffset": 0, "padding": 0, "rowPadding": 3.5, "symbolStrokeWidth": 1.3}}
    },
    "layer": [
     {"transform": [{"filter": "datum.m != 'BA'"}], "mark": {"type": "line", "strokeWidth": 1.3},
      "encoding": {"strokeDash": {"field": "m", "type": "nominal", "scale": {"domain": ["BA", "CSI", "CIE(z)", "CIE", "SOM"], "range": [[1, 0], [1.2, 1.8], [5, 3.3], [4, 2, 1, 2], [1, 0]]}, "legend": {"title": null, "orient": "none", "legendX": 337, "legendY": 1.6, "labelFont": "Liberation Sans", "labelFontSize": 20, "labelColor": "black", "symbolSize": 576, "labelOffset": 0, "padding": 0, "rowPadding": 3.5, "symbolStrokeWidth": 1.3}}}},
     {"transform": [{"filter": "datum.m == 'BA'"}], "mark": {"type": "point", "filled": false, "size": 576, "strokeWidth": 1.1, "opacity": 1},
      "encoding": {"shape": {"field": "m", "type": "nominal", "scale": {"domain": ["BA", "CSI", "CIE(z)", "CIE", "SOM"], "range": ["M-0.27,0L0.27,0M0,-0.27L0,0.27M-0.19,-0.19L0.19,0.19M-0.19,0.19L0.19,-0.19", "stroke", "stroke", "stroke", "stroke"]}, "legend": {"title": null, "orient": "none", "legendX": 337, "legendY": 1.6, "labelFont": "Liberation Sans", "labelFontSize": 20, "labelColor": "black", "symbolSize": 576, "labelOffset": 0, "padding": 0, "rowPadding": 3.5, "symbolStrokeWidth": 1.3}}}}
    ]
   },
   {
    "width": 428, "height": 200,
    "data": {"name": "b_cost"},
    "encoding": {
     "x": {"field": "x", "type": "quantitative", "scale": {"domain": [0, 1000], "nice": false}, "axis": {"values": [0, 200, 400, 600, 800, 1000], "format": "d", "title": "number of iterations"}},
     "y": {"field": "y", "type": "quantitative", "scale": {"domain": [-4, 2.95], "nice": false, "zero": false}, "axis": {"values": [-4, -2, 0, 2], "format": "~g", "title": "log₁₀(F′)", "titleAngle": 0, "titleAlign": "left", "titleBaseline": "middle", "titleX": 8, "titleY": 1, "titleFont": "DejaVu Serif", "titleFontSize": 24}},
     "color": {"field": "m", "type": "nominal", "scale": {"domain": ["BA", "CSI", "CIE(z)", "CIE", "SOM"], "range": ["#ff0000", "#0000ff", "#ff00ff", "#00ff00", "#000000"]}, "legend": {"title": null, "orient": "none", "legendX": 331, "legendY": 12, "labelFont": "Liberation Sans", "labelFontSize": 20, "labelColor": "black", "symbolSize": 576, "labelOffset": 0, "padding": 0, "rowPadding": 3.5, "symbolStrokeWidth": 1.3}}
    },
    "layer": [
     {"transform": [{"filter": "datum.m != 'BA'"}], "mark": {"type": "line", "strokeWidth": 1.3},
      "encoding": {"strokeDash": {"field": "m", "type": "nominal", "scale": {"domain": ["BA", "CSI", "CIE(z)", "CIE", "SOM"], "range": [[1, 0], [1.2, 1.8], [5, 3.3], [4, 2, 1, 2], [1, 0]]}, "legend": {"title": null, "orient": "none", "legendX": 331, "legendY": 12, "labelFont": "Liberation Sans", "labelFontSize": 20, "labelColor": "black", "symbolSize": 576, "labelOffset": 0, "padding": 0, "rowPadding": 3.5, "symbolStrokeWidth": 1.3}}}},
     {"transform": [{"filter": "datum.m == 'BA'"}], "mark": {"type": "point", "filled": false, "size": 576, "strokeWidth": 1.1, "opacity": 1},
      "encoding": {"shape": {"field": "m", "type": "nominal", "scale": {"domain": ["BA", "CSI", "CIE(z)", "CIE", "SOM"], "range": ["M-0.27,0L0.27,0M0,-0.27L0,0.27M-0.19,-0.19L0.19,0.19M-0.19,0.19L0.19,-0.19", "stroke", "stroke", "stroke", "stroke"]}, "legend": {"title": null, "orient": "none", "legendX": 331, "legendY": 12, "labelFont": "Liberation Sans", "labelFontSize": 20, "labelColor": "black", "symbolSize": 576, "labelOffset": 0, "padding": 0, "rowPadding": 3.5, "symbolStrokeWidth": 1.3}}}}
    ]
   }
  ]
 }
]
}
